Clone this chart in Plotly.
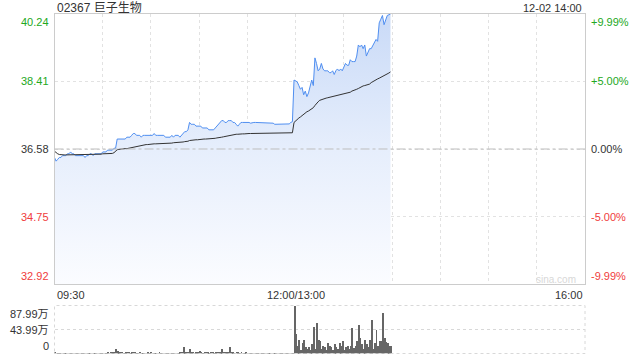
import plotly.graph_objects as go

# ---------------- data ----------------
title_text = "02367 巨子生物"
stamp_text = "12-02 14:00"
prev_close = 36.58
price_ticks = [32.92, 34.75, 36.58, 38.41, 40.24]
price_tick_text = ["32.92", "34.75", "36.58", "38.41", "40.24"]
pct_tick_text = ["-9.99%", "-5.00%", "0.00%", "+5.00%", "+9.99%"]
tick_colors = ["#f03c3c", "#f03c3c", "#333333", "#22a822", "#22a822"]
time_ticks = [0, 150, 330]
time_labels = ["09:30", "12:00/13:00", "16:00"]
vol_ticks = [0, 43.99, 87.99]
vol_tick_text = ["0", "43.99万", "87.99万"]

price_am = [
    36.35, 36.25, 36.30, 36.35, 36.35, 36.40, 36.40, 36.40, 36.45, 36.45,
    36.50, 36.45, 36.45, 36.40, 36.40, 36.40, 36.40, 36.40, 36.40, 36.35,
    36.40, 36.40, 36.45, 36.45, 36.40, 36.45, 36.45, 36.45, 36.45, 36.45,
    36.50, 36.50, 36.50, 36.55, 36.55, 36.55, 36.55, 36.60, 36.60, 36.85,
    36.85, 36.85, 36.85, 36.85, 36.85, 36.90, 36.90, 36.90, 36.95, 37.00,
    37.00, 36.95, 36.95, 36.95, 36.90, 36.95, 36.95, 36.95, 36.95, 36.95,
    36.95, 36.95, 37.00, 36.95, 36.95, 36.95, 36.95, 36.95, 36.95, 36.90,
    36.90, 36.90, 36.90, 36.95, 36.90, 36.95, 36.95, 36.95, 36.90, 36.95,
    37.00, 37.05, 37.05, 37.10, 37.30, 37.25, 37.25, 37.25, 37.20, 37.20,
    37.20, 37.20, 37.15, 37.15, 37.15, 37.15, 37.10, 37.10, 37.10, 37.10,
    37.15, 37.20, 37.25, 37.30, 37.35, 37.35, 37.30, 37.30, 37.35, 37.35,
    37.35, 37.30, 37.30, 37.25, 37.20, 37.25, 37.30, 37.30, 37.30, 37.32,
    37.30, 37.30, 37.28, 37.30, 37.30, 37.30, 37.30, 37.28, 37.30, 37.30,
    37.30, 37.30, 37.30, 37.28, 37.30, 37.30, 37.28, 37.25, 37.25, 37.25,
    37.26, 37.25, 37.25, 37.25, 37.26, 37.25, 37.26, 37.30, 37.32,
]
price_pm = [
    38.45, 38.42, 38.40, 38.30, 38.20, 38.25, 38.05, 38.15, 38.00, 38.10,
    38.25, 38.45, 38.30, 39.05, 38.90, 38.70, 38.75, 38.90, 38.75, 38.70,
    38.70, 38.70, 38.65, 38.65, 38.70, 38.60, 38.70, 38.75, 38.70, 38.75,
    38.70, 38.80, 38.90, 38.85, 38.85, 39.00, 38.95, 38.95, 38.95, 39.10,
    39.40, 39.35, 39.40, 39.30, 39.40, 39.10, 39.20, 39.30, 39.30, 39.40,
    39.45, 39.55, 39.50, 40.00, 40.10, 40.20, 39.95, 40.10, 40.20, 40.22,
    40.24,
]

avg_am = [
    36.52, 36.48, 36.45, 36.43, 36.42, 36.42, 36.42, 36.42, 36.42, 36.42,
    36.43, 36.43, 36.43, 36.43, 36.43, 36.43, 36.43, 36.43, 36.43,
    36.43, 36.43, 36.43, 36.43, 36.44, 36.44, 36.44, 36.44, 36.44, 36.44,
    36.44, 36.45, 36.45, 36.45, 36.45, 36.46, 36.46, 36.46,
    36.48, 36.53, 36.56, 36.57, 36.58, 36.58, 36.59, 36.59, 36.59, 36.60,
    36.60, 36.62, 36.64, 36.65, 36.66, 36.67,
    36.68, 36.69, 36.69, 36.70, 36.70, 36.70, 36.71, 36.71, 36.71, 36.72,
    36.72, 36.72, 36.72, 36.72, 36.73, 36.73, 36.73, 36.73, 36.74, 36.74,
    36.74, 36.75, 36.75, 36.75, 36.76, 36.76, 36.76, 36.77,
    36.78, 36.78, 36.79, 36.81, 36.82, 36.82, 36.83, 36.83, 36.83, 36.84,
    36.84, 36.84, 36.85, 36.85, 36.85, 36.86, 36.86, 36.86, 36.87, 36.87,
    36.88, 36.88, 36.89, 36.90, 36.91,
    36.92, 36.93, 36.95, 36.96, 36.97, 36.97, 36.98, 36.98, 36.98, 36.99,
    36.99, 36.99, 36.99, 37.00, 37.00, 37.00, 37.00,
    37.00, 37.00, 37.00, 37.01, 37.01, 37.01, 37.01, 37.01, 37.01, 37.01,
    37.01, 37.01, 37.01, 37.01, 37.02, 37.02, 37.02, 37.02, 37.02, 37.02,
    37.02, 37.02, 37.02, 37.02, 37.02, 37.02,
]
avg_pm = [
    37.30, 37.35, 37.38, 37.42, 37.45, 37.49, 37.52, 37.55, 37.59, 37.61,
    37.64, 37.67, 37.70, 37.76, 37.82, 37.86, 37.90, 37.92, 37.94, 37.95,
    37.96, 37.97, 37.98, 37.99, 38.00, 38.01, 38.02, 38.02, 38.03, 38.04,
    38.05, 38.06, 38.07, 38.09, 38.10, 38.12, 38.15, 38.16, 38.18, 38.20,
    38.22, 38.25, 38.27, 38.29, 38.30, 38.31, 38.32, 38.34, 38.38, 38.41,
    38.43, 38.47, 38.48, 38.50, 38.52, 38.56, 38.58, 38.60, 38.62, 38.64,
    38.67,
]

# volume in 万 shares
vol_am = [
    2.0, 1.5, 1.2, 1.0, 1.5, 1.0, 0.8, 1.2, 1.0, 1.5,
    1.0, 0.8, 1.2, 1.0, 0.8, 1.0, 1.5, 1.0, 0.8, 1.0,
    1.2, 1.0, 1.5, 1.0, 0.8, 1.2, 1.0, 1.5, 1.0, 1.2,
    1.5, 1.0, 1.2, 2.0, 1.5, 2.5, 2.0, 3.0, 9.0, 5.0,
    3.0, 2.0, 2.5, 1.5, 2.0, 4.0, 2.0, 1.5, 2.5, 3.0,
    2.0, 1.5, 1.2, 2.0, 1.5, 1.0, 1.5, 1.2, 2.0, 1.5,
    3.5, 1.5, 1.2, 1.0, 1.5, 2.0, 1.0, 1.5, 1.2, 1.0,
    1.5, 1.0, 1.2, 0.8, 1.5, 1.0, 1.2, 1.5, 2.0, 3.0,
    12.0, 4.0, 2.0, 3.0, 10.0, 3.0, 2.0, 1.5, 2.0, 2.5,
    5.0, 2.0, 1.5, 3.0, 2.0, 4.0, 1.5, 2.0, 3.0, 1.5,
    4.0, 2.0, 3.0, 4.5, 9.0, 4.0, 2.0, 3.0, 2.5, 12.0,
    3.0, 2.0, 1.5, 2.5, 2.0, 1.5, 2.0, 1.5, 1.2, 2.0,
    1.5, 1.0, 1.2, 1.5, 1.0, 1.2, 1.0, 1.5, 1.0, 0.8,
    1.2, 1.0, 1.5, 1.0, 1.2, 0.8, 1.0, 1.2, 1.0, 1.5,
    1.0, 1.2, 0.8, 1.0, 1.2, 1.0, 1.5, 1.0, 1.2,
]
vol_pm = [
    87.99, 37.0, 14.0, 26.0, 8.0, 20.0, 26.0, 12.0, 9.0, 12.0,
    7.0, 18.0, 50.0, 10.0, 56.0, 26.0, 23.0, 10.0, 15.0, 12.0,
    8.0, 20.0, 15.0, 12.0, 7.0, 18.0, 12.0, 9.0, 20.0, 15.0,
    23.0, 8.0, 12.0, 15.0, 10.0, 15.0, 47.0, 11.0, 15.0, 23.0,
    53.0, 29.0, 18.0, 10.0, 26.0, 18.0, 12.0, 26.0, 62.0, 10.0,
    20.0, 44.0, 14.0, 23.0, 23.0, 74.5, 29.0, 22.0, 20.0, 15.0,
    15.0,
]

price = price_am + price_pm
avg = avg_am + avg_pm
vol = vol_am + vol_pm
x_price = list(range(len(price)))
x_avg = list(range(len(avg)))
x_vol = list(range(len(vol)))

# ---------------- figure ----------------
W, H = 640, 360
FONT = "Arial, 'Liberation Sans', 'Noto Sans CJK SC', sans-serif"

def py(pix):
    return 1 - pix / H

def px(pix):
    return pix / W

main_dom = [py(284), py(14)]
vol_dom = [py(353.5), py(305.5)]
x_dom = [px(54.5), px(585)]

fig = go.Figure()

fig.add_trace(go.Scatter(
    x=x_price, y=price, mode="lines",
    line=dict(color="#4f8ef0", width=1),
    fill="tozeroy",
    fillgradient=dict(type="vertical",
                      colorscale=[[0, "#fbfcff"], [0.5, "#e6eefc"], [1, "#c9daf7"]],
                      start=price_ticks[0], stop=price_ticks[-1]),
    hoverinfo="skip", xaxis="x", yaxis="y",
))
fig.add_trace(go.Scatter(
    x=x_avg, y=avg, mode="lines",
    line=dict(color="#333333", width=1),
    hoverinfo="skip", xaxis="x", yaxis="y",
))
fig.add_trace(go.Bar(
    x=x_vol, y=vol, width=0.6,
    marker=dict(color="#666666", line=dict(width=0)),
    hoverinfo="skip", xaxis="x2", yaxis="y2",
))

fig.update_layout(
    width=W, height=H,
    margin=dict(l=0, r=0, t=0, b=0),
    paper_bgcolor="white", plot_bgcolor="white",
    showlegend=False,
    font=dict(family=FONT, size=11, color="#333"),
    bargap=0,
    xaxis=dict(domain=x_dom, range=[0, 330], anchor="y",
               tickmode="linear", tick0=0, dtick=30,
               showgrid=True, gridcolor="#e2e2e2", griddash="dot", gridwidth=1,
               showticklabels=False, zeroline=False,
               showline=True, linecolor="#cccccc", linewidth=1, mirror=True),
    yaxis=dict(domain=main_dom, range=[price_ticks[0], price_ticks[-1]], anchor="x",
               tickvals=price_ticks, showticklabels=False,
               showgrid=True, gridcolor="#e2e2e2", griddash="dot", gridwidth=1,
               zeroline=False,
               showline=True, linecolor="#cccccc", linewidth=1, mirror=True),
    xaxis2=dict(domain=x_dom, range=[0, 330], anchor="y2",
                showgrid=False, showticklabels=False, zeroline=False,
                showline=False),
    yaxis2=dict(domain=vol_dom, range=[0, vol_ticks[-1]], anchor="x2",
                tickvals=vol_ticks, showticklabels=False,
                showgrid=True, gridcolor="#d8d8d8", griddash="dot", gridwidth=1,
                zeroline=False, showline=False),
)

# prev-close reference line
fig.add_shape(type="line", xref="x domain", yref="y", x0=0, x1=1,
              y0=prev_close, y1=prev_close,
              line=dict(color="#bdbdbd", width=1, dash="dashdot"))
# volume frame (dotted)
fig.add_shape(type="rect", xref="x2 domain", yref="y2 domain", x0=0, x1=1, y0=0, y1=1,
              line=dict(color="#d8d8d8", width=1, dash="dot"))

ann = []
n = len(price_ticks)
for i, (v, t, p, c) in enumerate(zip(price_ticks, price_tick_text, pct_tick_text, tick_colors)):
    ya = "bottom" if i == 0 else ("top" if i == n - 1 else "middle")
    ann.append(dict(x=px(51), xref="paper", y=v, yref="y", text=t,
                    xanchor="right", yanchor=ya, showarrow=False,
                    font=dict(color=c, size=11)))
    ann.append(dict(x=px(589), xref="paper", y=v, yref="y", text=p,
                    xanchor="left", yanchor=ya, showarrow=False,
                    font=dict(color=c, size=11)))

for i, (v, t) in enumerate(zip(time_ticks, time_labels)):
    xa = "left" if i == 0 else ("right" if i == len(time_ticks) - 1 else "center")
    ann.append(dict(x=v, xref="x", y=py(295), yref="paper", text=t,
                    xanchor=xa, yanchor="middle", showarrow=False,
                    font=dict(color="#333", size=11)))

for i, (v, t) in enumerate(zip(vol_ticks, vol_tick_text)):
    ya = "bottom" if i == 0 else ("top" if i == len(vol_ticks) - 1 else "middle")
    ann.append(dict(x=px(51), xref="paper", y=v, yref="y2", text=t,
                    xanchor="right", yanchor=ya, showarrow=False,
                    font=dict(color="#333", size=11)))

ann.append(dict(x=px(55), xref="paper", y=py(7.5), yref="paper", text=title_text,
                xanchor="left", yanchor="middle", showarrow=False,
                font=dict(color="#333", size=12)))
ann.append(dict(x=px(584), xref="paper", y=py(7.5), yref="paper", text=stamp_text,
                xanchor="right", yanchor="middle", showarrow=False,
                font=dict(color="#333", size=11)))
ann.append(dict(x=px(578), xref="paper", y=py(279), yref="paper", text="sina.com",
                xanchor="right", yanchor="middle", showarrow=False,
                font=dict(color="#d8d8d8", size=10)))

fig.update_layout(annotations=ann)

fig.write_html("out.html")
